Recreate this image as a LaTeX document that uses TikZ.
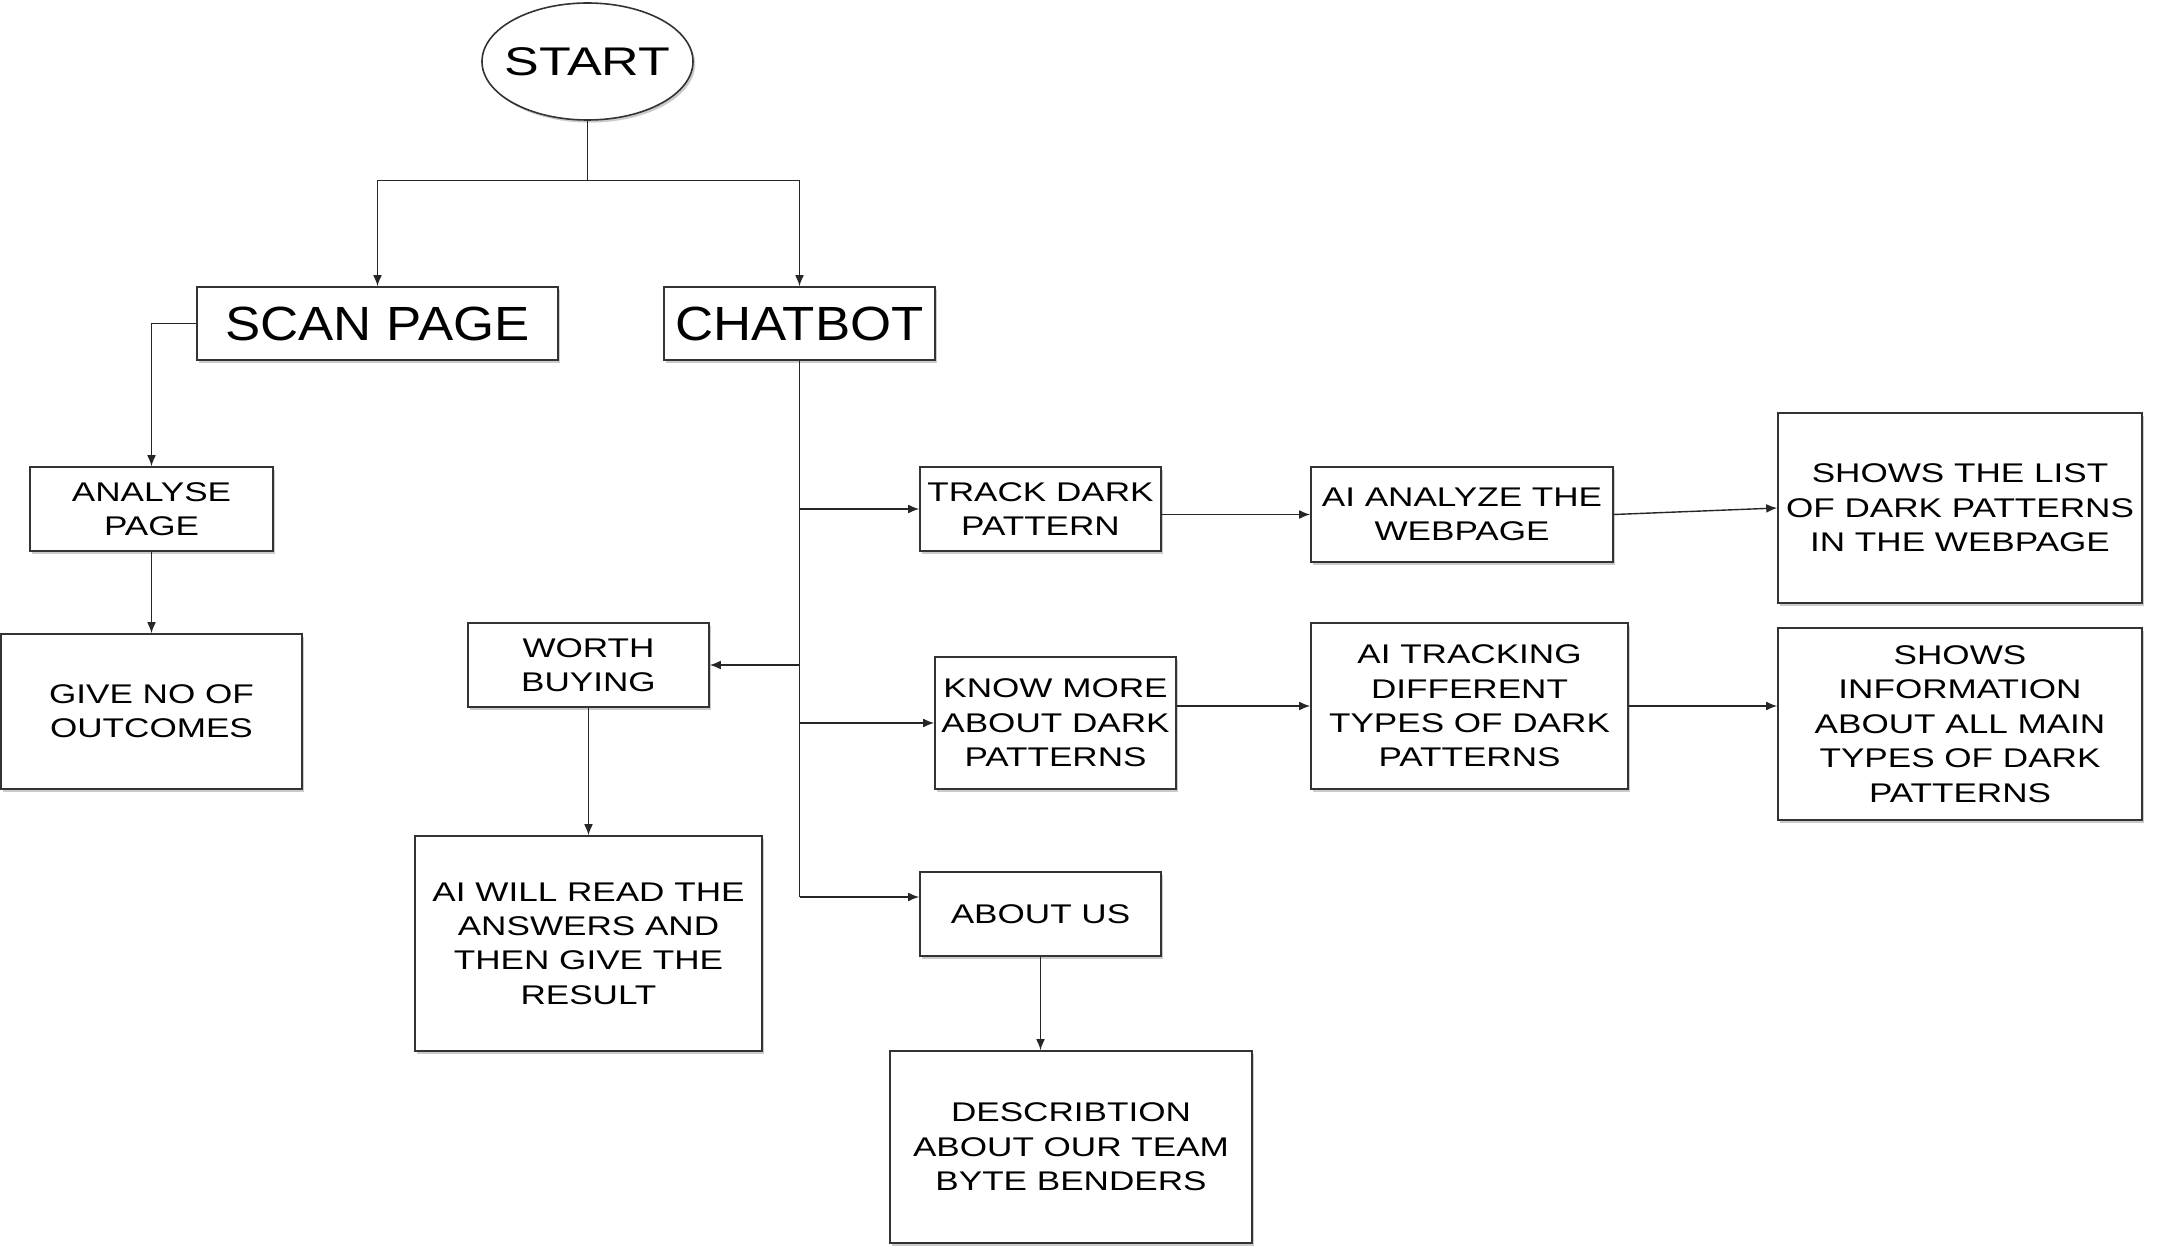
\documentclass[tikz,border=0pt]{standalone}
\usepackage{fontspec}
\setmainfont{Liberation Sans}
\newfontfamily\wfont[FakeStretch=1.3]{Liberation Sans}
\newfontfamily\mfont[FakeStretch=1.1]{Liberation Sans}
\usetikzlibrary{shapes.geometric,shadows,arrows.meta}
\begin{document}
\begin{tikzpicture}[x=0.5pt,y=-0.5pt,
  shd/.style={drop shadow={shadow xshift=1.1pt,shadow yshift=-1.3pt,fill=black!45,opacity=0.45}},
  box/.style={draw=black!80,line width=0.8pt,fill=white,shd,inner sep=0pt,align=center,
    text=black,font=\wfont\fontsize{13.5}{17.2}\selectfont},
  bigbox/.style={box,font=\mfont\fontsize{24}{28}\selectfont},
  conn/.style={draw=black!85,line width=0.7pt},
  arr/.style={conn,-{Latex[length=5.5pt,width=4.4pt]}}]
\fill[white] (0,0) rectangle (2160,1257);
\useasboundingbox (0,0) rectangle (2160,1257);

% nodes
\node[ellipse,draw=black!80,line width=0.8pt,fill=white,shd,inner sep=0pt,
  minimum width=105.5pt,minimum height=58.5pt,text=black,
  font=\wfont\fontsize{20}{24}\selectfont] (start) at (587.5,61.5) {\makebox[0pt]{START}};
\node[bigbox,minimum width=180.5pt,minimum height=36.5pt] (scan) at (377.5,323.5) {SCAN PAGE};
\node[bigbox,minimum width=135.5pt,minimum height=36.5pt] (chat) at (799.5,323.5) {CHATBOT};
\node[box,minimum width=121.5pt,minimum height=42pt] (analyse) at (151.5,509) {ANALYSE\\PAGE};
\node[box,minimum width=150.5pt,minimum height=77.5pt] (give) at (151.5,711.5) {GIVE NO OF\\OUTCOMES};
\node[box,minimum width=120.5pt,minimum height=42pt] (track) at (1040.5,509) {TRACK DARK\\PATTERN};
\node[box,minimum width=151pt,minimum height=47.5pt] (aianalyze) at (1462,514.5) {AI ANALYZE THE\\WEBPAGE};
\node[box,minimum width=182pt,minimum height=95pt] (showslist) at (1960,508) {SHOWS THE LIST\\OF DARK PATTERNS\\IN THE WEBPAGE};
\node[box,minimum width=120.5pt,minimum height=42pt] (worth) at (588.5,665) {WORTH\\BUYING};
\node[box,minimum width=173.5pt,minimum height=107.5pt] (aiwill) at (588.5,943.5) {AI WILL READ THE\\ANSWERS AND\\THEN GIVE THE\\RESULT};
\node[box,minimum width=120.5pt,minimum height=66pt] (know) at (1055.5,723) {KNOW MORE\\ABOUT DARK\\PATTERNS};
\node[box,minimum width=158.5pt,minimum height=83pt] (aitrack) at (1469.5,706) {AI TRACKING\\DIFFERENT\\TYPES OF DARK\\PATTERNS};
\node[box,minimum width=182pt,minimum height=96pt] (showsinfo) at (1960,724) {SHOWS\\INFORMATION\\ABOUT ALL MAIN\\TYPES OF DARK\\PATTERNS};
\node[box,minimum width=120.5pt,minimum height=42pt] (aboutus) at (1040.5,914) {ABOUT US};
\node[box,minimum width=181pt,minimum height=96pt] (descr) at (1071,1147) {DESCRIBTION\\ABOUT OUR TEAM\\BYTE BENDERS};

% helper coordinates
\coordinate (split) at (587.5,180.5);
\coordinate (trunkend) at (799.5,897);

% connectors
\draw[conn] (start.south) -- (split);
\draw[arr] (split) -| (scan.north);
\draw[arr] (split) -| (chat.north);
\draw[arr] (scan.west) -| (analyse.north);
\draw[arr] (analyse.south) -- (give.north);
\draw[conn] (chat.south) -- (trunkend);
\draw[arr] (chat.south |- track.west) -- (track.west);
\draw[arr] (chat.south |- worth.east) -- (worth.east);
\draw[arr] (chat.south |- know.west) -- (know.west);
\draw[arr] (trunkend) -- (trunkend -| aboutus.west);
\draw[arr] (track.east |- aianalyze.west) -- (aianalyze.west);
\draw[arr] (aianalyze.east) -- (showslist.west);
\draw[arr] (know.east |- aitrack.west) -- (aitrack.west);
\draw[arr] (aitrack.east) -- (aitrack.east -| showsinfo.west);
\draw[arr] (worth.south) -- (aiwill.north);
\draw[arr] (aboutus.south) -- (aboutus.south |- descr.north);
\end{tikzpicture}
\end{document}
